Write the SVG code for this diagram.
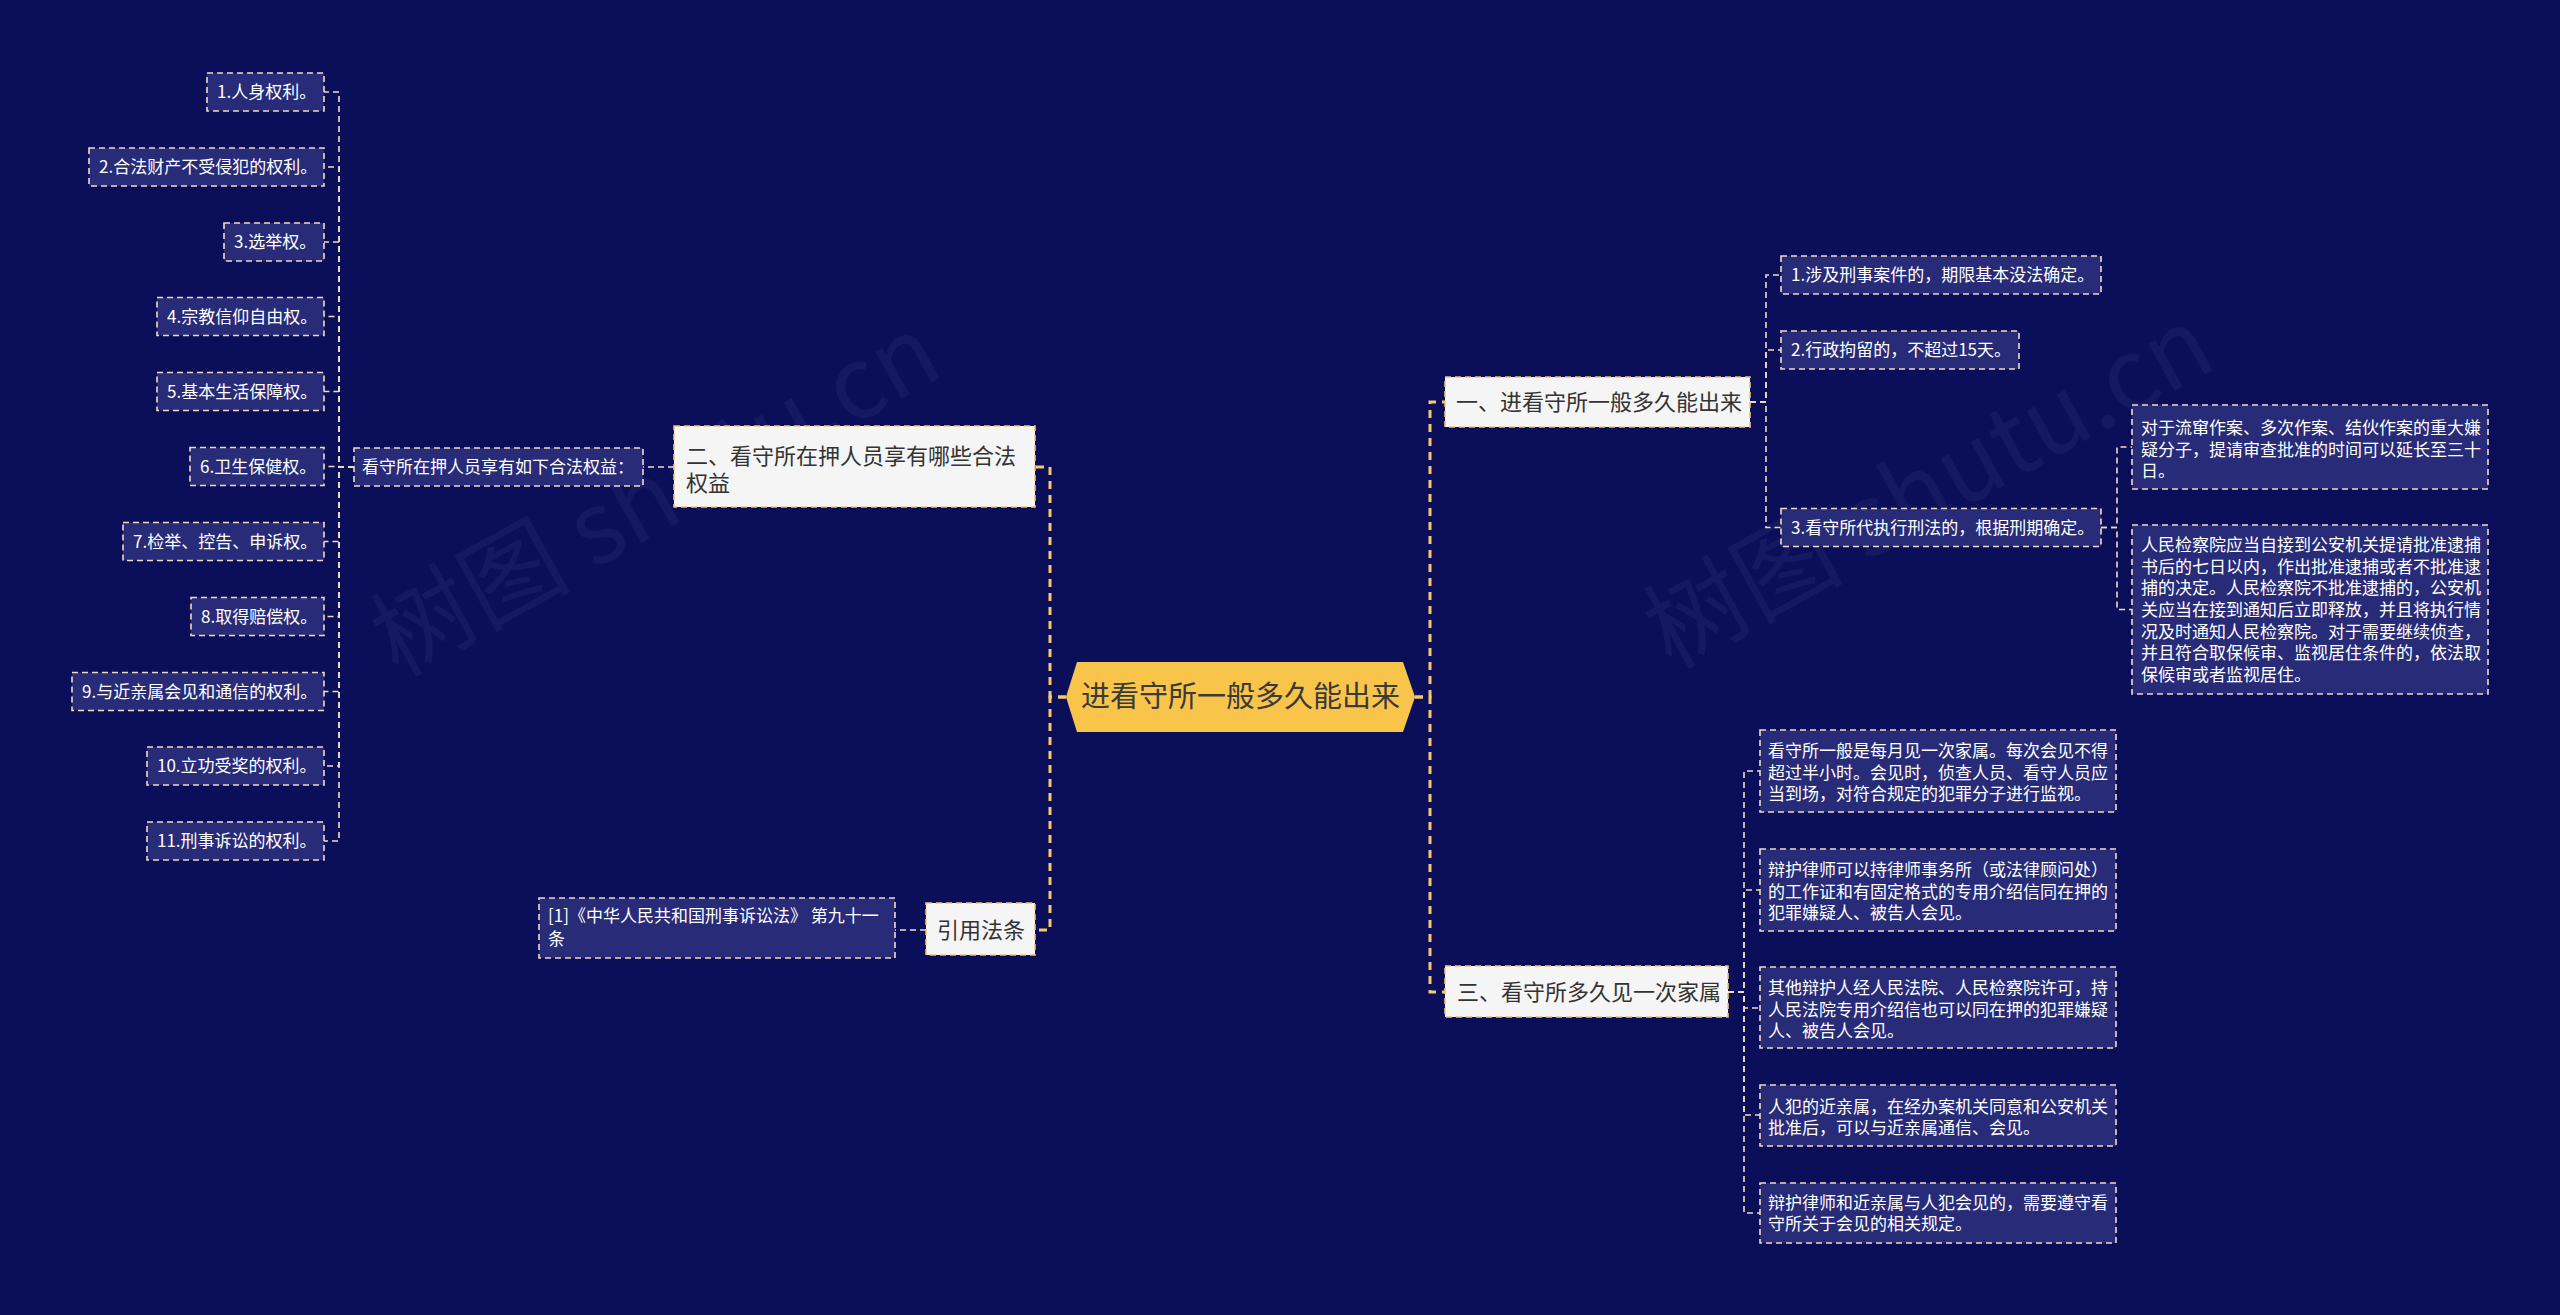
<svg xmlns="http://www.w3.org/2000/svg" width="2560" height="1315" viewBox="0 0 2560 1315">
<defs>
<style>
text{font-family:"Noto Sans CJK SC","Noto Sans",sans-serif;}
.bg{fill:#0b0f5a;}
.leaf{fill:#272b78;stroke:#efdcc0;stroke-width:1.6;stroke-dasharray:6 4;}
.lt{fill:#ffffff;font-size:17px;}
.l1{fill:#f5f5f5;stroke:#f3c466;stroke-width:1.6;stroke-dasharray:6 4;}
.l1t{fill:#333333;font-size:22px;}
.main{fill:none;stroke:#f5c96a;stroke-width:3;stroke-dasharray:8 6;}
.sub{fill:none;stroke:#efdcc0;stroke-width:1.6;stroke-dasharray:6 4;}
.wm{fill:#ffffff;fill-opacity:0.045;font-size:100px;}
</style>
</defs>
<rect class="bg" x="0" y="0" width="2560" height="1315"/>
<g id="watermarks">
<text class="wm" x="657" y="530" text-anchor="middle" transform="rotate(-29 657 498)">树图 shutu.cn</text>
<text class="wm" x="1930" y="522" text-anchor="middle" transform="rotate(-29 1930 490)">树图 shutu.cn</text>
</g>
<g id="connectors">
<path class="main" d="M1066,697 H1050 V467 H1035"/>
<path class="main" d="M1066,697 H1050 V930 H1035"/>
<path class="main" d="M1415,697 H1430 V402 H1445"/>
<path class="main" d="M1415,697 H1430 V992 H1445"/>
<path class="sub" d="M674,467 H643"/>
<path class="sub" d="M354,467 H339 V92 H324"/>
<path class="sub" d="M354,467 H339 V167 H324"/>
<path class="sub" d="M354,467 H339 V242 H324"/>
<path class="sub" d="M354,467 H339 V316.5 H324"/>
<path class="sub" d="M354,467 H339 V391.5 H324"/>
<path class="sub" d="M354,467 H339 V466.5 H324"/>
<path class="sub" d="M354,467 H339 V541.5 H324"/>
<path class="sub" d="M354,467 H339 V616.5 H324"/>
<path class="sub" d="M354,467 H339 V691.5 H324"/>
<path class="sub" d="M354,467 H339 V766 H324"/>
<path class="sub" d="M354,467 H339 V841 H324"/>
<path class="sub" d="M926,930 H895"/>
<path class="sub" d="M1750,402 H1766 V275 H1781"/>
<path class="sub" d="M1750,402 H1766 V350 H1781"/>
<path class="sub" d="M1750,402 H1766 V527.5 H1781"/>
<path class="sub" d="M2101,527.5 H2117 V447 H2132"/>
<path class="sub" d="M2101,527.5 H2117 V609.5 H2132"/>
<path class="sub" d="M1728,992 H1744 V771 H1760"/>
<path class="sub" d="M1728,992 H1744 V890 H1760"/>
<path class="sub" d="M1728,992 H1744 V1008 H1760"/>
<path class="sub" d="M1728,992 H1744 V1115 H1760"/>
<path class="sub" d="M1728,992 H1744 V1213 H1760"/>
</g>
<g id="center">
<polygon points="1066,697 1077,662 1403,662 1415,697 1403,732 1077,732" fill="#f8c54a"/>
<text x="1240.5" y="707" text-anchor="middle" font-size="29px" fill="#3a3a3a">进看守所一般多久能出来</text>
</g>
<g id="n2">
<rect class="l1" x="674" y="426" width="361" height="81"/>
<text class="l1t" x="686" y="464">二、看守所在押人员享有哪些合法</text>
<text class="l1t" x="686" y="491">权益</text>
</g>
<g id="n2-0">
<rect class="leaf" x="354" y="448" width="289" height="38"/>
<text class="lt" x="362" y="473">看守所在押人员享有如下合法权益：</text>
</g>
<g id="n2-1"><rect class="leaf" x="207" y="73" width="117" height="38"/><text class="lt" x="217" y="98">1.人身权利。</text></g>
<g id="n2-2"><rect class="leaf" x="89" y="148" width="235" height="38"/><text class="lt" x="99" y="173">2.合法财产不受侵犯的权利。</text></g>
<g id="n2-3"><rect class="leaf" x="224" y="223" width="100" height="38"/><text class="lt" x="234" y="248">3.选举权。</text></g>
<g id="n2-4"><rect class="leaf" x="157" y="297.5" width="167" height="38"/><text class="lt" x="167" y="322.5">4.宗教信仰自由权。</text></g>
<g id="n2-5"><rect class="leaf" x="157" y="372.5" width="167" height="38"/><text class="lt" x="167" y="397.5">5.基本生活保障权。</text></g>
<g id="n2-6"><rect class="leaf" x="190" y="447.5" width="134" height="38"/><text class="lt" x="200" y="472.5">6.卫生保健权。</text></g>
<g id="n2-7"><rect class="leaf" x="123" y="522.5" width="201" height="38"/><text class="lt" x="133" y="547.5">7.检举、控告、申诉权。</text></g>
<g id="n2-8"><rect class="leaf" x="191" y="597.5" width="133" height="38"/><text class="lt" x="201" y="622.5">8.取得赔偿权。</text></g>
<g id="n2-9"><rect class="leaf" x="72" y="672.5" width="252" height="38"/><text class="lt" x="82" y="697.5">9.与近亲属会见和通信的权利。</text></g>
<g id="n2-10"><rect class="leaf" x="147" y="747" width="177" height="38"/><text class="lt" x="157" y="772">10.立功受奖的权利。</text></g>
<g id="n2-11"><rect class="leaf" x="147" y="822" width="177" height="38"/><text class="lt" x="157" y="847">11.刑事诉讼的权利。</text></g>
<g id="n4">
<rect class="l1" x="926" y="903" width="109" height="52"/>
<text class="l1t" x="937" y="938">引用法条</text>
</g>
<g id="n4-1">
<rect class="leaf" x="539" y="898" width="356" height="60"/>
<text class="lt" x="548" y="922">[1]《中华人民共和国刑事诉讼法》 第九十一</text>
<text class="lt" x="548" y="945">条</text>
</g>
<g id="n1">
<rect class="l1" x="1445" y="377" width="305" height="50"/>
<text class="l1t" x="1456" y="410">一、进看守所一般多久能出来</text>
</g>
<g id="n1-1"><rect class="leaf" x="1781" y="256" width="320" height="38"/><text class="lt" x="1791" y="281">1.涉及刑事案件的，期限基本没法确定。</text></g>
<g id="n1-2"><rect class="leaf" x="1781" y="331" width="238" height="38"/><text class="lt" x="1791" y="356">2.行政拘留的，不超过15天。</text></g>
<g id="n1-3"><rect class="leaf" x="1781" y="508.5" width="320" height="38"/><text class="lt" x="1791" y="533.5">3.看守所代执行刑法的，根据刑期确定。</text></g>
<g id="n1-3-1">
<rect class="leaf" x="2132" y="405" width="356" height="84"/>
<text class="lt" x="2141" y="434">对于流窜作案、多次作案、结伙作案的重大嫌</text>
<text class="lt" x="2141" y="456">疑分子，提请审查批准的时间可以延长至三十</text>
<text class="lt" x="2141" y="477">日。</text>
</g>
<g id="n1-3-2">
<rect class="leaf" x="2132" y="525" width="356" height="169"/>
<text class="lt" x="2141" y="551">人民检察院应当自接到公安机关提请批准逮捕</text>
<text class="lt" x="2141" y="572.7">书后的七日以内，作出批准逮捕或者不批准逮</text>
<text class="lt" x="2141" y="594.3">捕的决定。人民检察院不批准逮捕的，公安机</text>
<text class="lt" x="2141" y="616">关应当在接到通知后立即释放，并且将执行情</text>
<text class="lt" x="2141" y="637.7">况及时通知人民检察院。对于需要继续侦查，</text>
<text class="lt" x="2141" y="659.3">并且符合取保候审、监视居住条件的，依法取</text>
<text class="lt" x="2141" y="681">保候审或者监视居住。</text>
</g>
<g id="n3">
<rect class="l1" x="1445" y="966" width="283" height="51"/>
<text class="l1t" x="1457" y="1000">三、看守所多久见一次家属</text>
</g>
<g id="n3-1">
<rect class="leaf" x="1760" y="730" width="356" height="82"/>
<text class="lt" x="1768" y="757">看守所一般是每月见一次家属。每次会见不得</text>
<text class="lt" x="1768" y="778.5">超过半小时。会见时，侦查人员、看守人员应</text>
<text class="lt" x="1768" y="800">当到场，对符合规定的犯罪分子进行监视。</text>
</g>
<g id="n3-2">
<rect class="leaf" x="1760" y="849" width="356" height="82"/>
<text class="lt" x="1768" y="876">辩护律师可以持律师事务所（或法律顾问处）</text>
<text class="lt" x="1768" y="897.7">的工作证和有固定格式的专用介绍信同在押的</text>
<text class="lt" x="1768" y="919.3">犯罪嫌疑人、被告人会见。</text>
</g>
<g id="n3-3">
<rect class="leaf" x="1760" y="967" width="356" height="81"/>
<text class="lt" x="1768" y="994">其他辩护人经人民法院、人民检察院许可，持</text>
<text class="lt" x="1768" y="1015.5">人民法院专用介绍信也可以同在押的犯罪嫌疑</text>
<text class="lt" x="1768" y="1037">人、被告人会见。</text>
</g>
<g id="n3-4">
<rect class="leaf" x="1760" y="1085" width="356" height="61"/>
<text class="lt" x="1768" y="1112.7">人犯的近亲属，在经办案机关同意和公安机关</text>
<text class="lt" x="1768" y="1134.3">批准后，可以与近亲属通信、会见。</text>
</g>
<g id="n3-5">
<rect class="leaf" x="1760" y="1183" width="356" height="60"/>
<text class="lt" x="1768" y="1208.7">辩护律师和近亲属与人犯会见的，需要遵守看</text>
<text class="lt" x="1768" y="1230.3">守所关于会见的相关规定。</text>
</g>
</svg>
